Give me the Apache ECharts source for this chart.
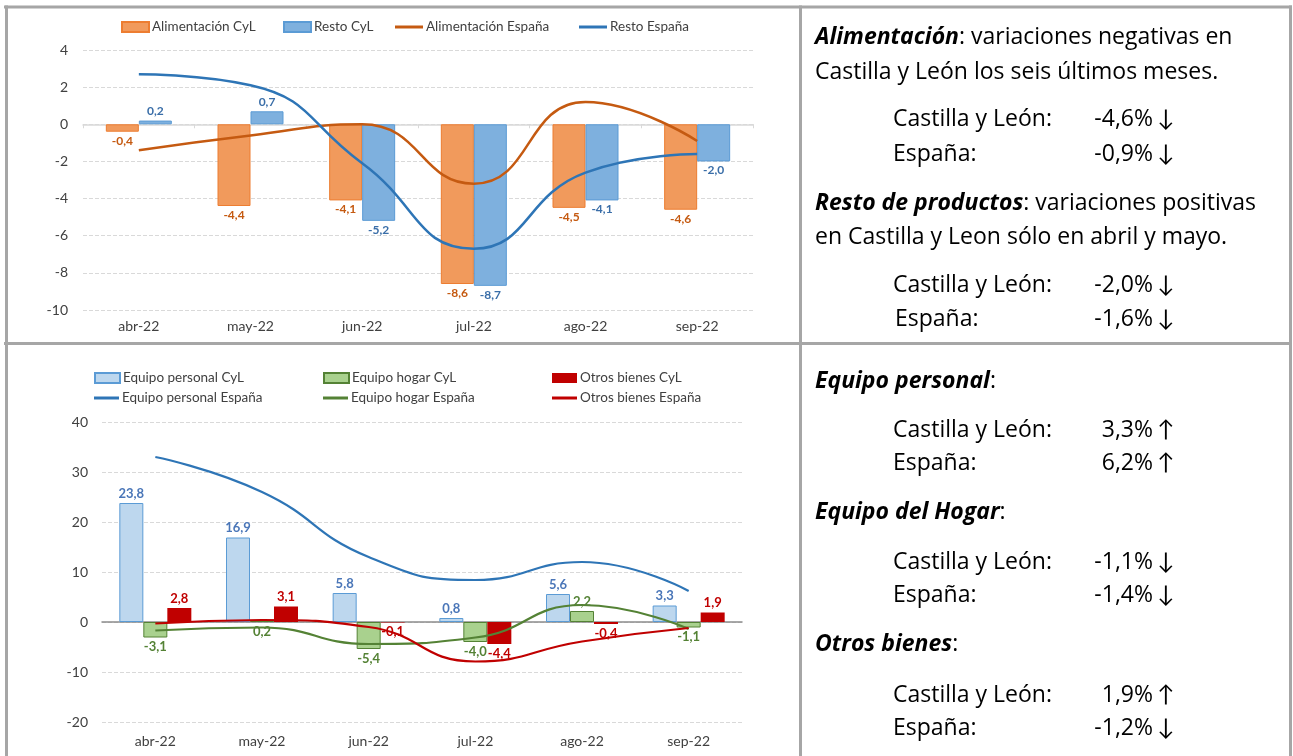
<!DOCTYPE html>
<html lang="es">
<head>
<meta charset="UTF-8">
<title>Comercio minorista CyL</title>
<script src="https://cdn.jsdelivr.net/npm/echarts@6/dist/echarts.min.js"></script>
<style>
body{margin:0;background:#fff;}
#main{width:1293px;height:756px;}
</style>
</head>
<body>
<div id="main"></div>
<script>
// datos
var meses = ['abr-22', 'may-22', 'jun-22', 'jul-22', 'ago-22', 'sep-22'];
var alimCyL = [-0.4, -4.4, -4.1, -8.6, -4.5, -4.6];
var restoCyL = [0.2, 0.7, -5.2, -8.7, -4.1, -2.0];
var alimEsp = [-1.4, -0.6, 0.0, -3.2, 1.2, -0.9];
var restoEsp = [2.7, 2.1, -2.1, -6.7, -2.6, -1.6];
var persCyL = [23.8, 16.9, 5.8, 0.8, 5.6, 3.3];
var hogarCyL = [-3.1, 0.2, -5.4, -4.0, 2.2, -1.1];
var otrosCyL = [2.8, 3.1, -0.1, -4.4, -0.4, 1.9];
var persEsp = [33.0, 26.0, 13.0, 8.4, 12.0, 6.2];
var hogarEsp = [-1.7, -1.1, -4.4, -3.1, 3.4, -1.4];
var otrosEsp = [-0.3, 0.4, -1.0, -7.9, -3.9, -1.2];

// textos del panel derecho
var cabeceras = ['Alimentación', 'Resto de productos', 'Equipo personal', 'Equipo del Hogar', 'Otros bienes'];
var resumenCyL = ['-4,6%', '-2,0%', '3,3%', '-1,1%', '1,9%'];
var resumenEsp = ['-0,9%', '-1,6%', '6,2%', '-1,4%', '-1,2%'];

var FONT = 'Lato';
var FONT_TXT = 'Open Sans';
var myChart = echarts.init(document.getElementById('main'));

function coma(v) {
    return v.toFixed(1).replace('.', ',');
}

function barLabel(color, size) {
    return {
        show: true,
        position: 'outside',
        distance: 3,
        fontFamily: FONT,
        fontSize: size,
        fontWeight: 'bold',
        color: color,
        formatter: function (p) { return coma(p.value); }
    };
}

// una leyenda por elemento para poder colocarlas como en el original
function leg(name, x, y, w, esLinea) {
    return {
        data: [name], left: x, top: y, padding: 0,
        icon: 'rect',
        itemWidth: w, itemHeight: esLinea ? 3 : 10,
        textStyle: { fontFamily: FONT, fontSize: 13.5, color: '#404040', padding: [0, 0, 0, -2] }
    };
}

function txt(x, y, s, align, fam) {
    var f = fam || FONT_TXT;
    return {
        type: 'text', x: x, y: y,
        style: {
            text: s, fill: '#000', align: align || 'left', verticalAlign: 'middle',
            fontFamily: f, fontSize: 23,
            rich: { b: { fontFamily: f, fontSize: 23, fontWeight: 'bold', fontStyle: 'italic' } }
        }
    };
}

function linea(x1, y1, x2, y2) {
    return { type: 'line', shape: { x1: x1, y1: y1, x2: x2, y2: y2 }, style: { stroke: '#A6A6A6', lineWidth: 3 } };
}

function flecha(s) {
    return s.charAt(0) === '-' ? '\u2193' : '\u2191';
}

var graficos = [
    linea(4, 7, 1292, 7), linea(6.5, 5.5, 6.5, 756), linea(1290.5, 5.5, 1290.5, 756),
    linea(800.5, 5.5, 800.5, 756), linea(4, 343.5, 1292, 343.5),
    txt(815, 37, '{b|' + cabeceras[0] + '}: variaciones negativas en'),
    txt(815, 72, 'Castilla y León los seis últimos meses.'),
    txt(815, 203, '{b|' + cabeceras[1] + '}: variaciones positivas'),
    txt(815, 237, 'en Castilla y Leon sólo en abril y mayo.'),
    txt(815, 381, '{b|' + cabeceras[2] + '}:'),
    txt(815, 512, '{b|' + cabeceras[3] + '}:'),
    txt(815, 644, '{b|' + cabeceras[4] + '}:')
];
var filasY = [[119, 154], [285, 319], [430, 463], [562, 595], [695, 728]];
filasY.forEach(function (f, i) {
    graficos.push(txt(893, f[0], 'Castilla y León:'));
    graficos.push(txt(1153, f[0], resumenCyL[i], 'right'));
    graficos.push(txt(1157, f[0], flecha(resumenCyL[i]), 'left', FONT));
    graficos.push(txt(i === 1 ? 895 : 893, f[1], 'España:'));
    graficos.push(txt(1153, f[1], resumenEsp[i], 'right'));
    graficos.push(txt(1157, f[1], flecha(resumenEsp[i]), 'left', FONT));
});

var ejeLabel = { fontFamily: FONT, fontSize: 14, color: '#404040' };
var rejilla = { show: true, lineStyle: { color: '#D9D9D9', type: [4, 2], width: 1 } };

myChart.setOption({
    animation: false,
    textStyle: { fontFamily: FONT },
    legend: [
        leg('Alimentación CyL', 121, 20, 27),
        leg('Resto CyL', 283, 20, 27),
        leg('Alimentación España', 395, 20, 28, true),
        leg('Resto España', 579, 20, 28, true),
        leg('Equipo personal CyL', 94, 371, 25),
        leg('Equipo hogar CyL', 323, 371, 25),
        leg('Otros bienes CyL', 552, 371, 25),
        leg('Equipo personal España', 94, 391, 25, true),
        leg('Equipo hogar España', 323, 391, 25, true),
        leg('Otros bienes España', 552, 391, 25, true)
    ],
    grid: [
        { left: 83, right: 540, top: 50, bottom: 446 },
        { left: 102, right: 551, top: 422, bottom: 34 }
    ],
    xAxis: [
        { type: 'category', gridIndex: 0, data: meses, position: 'bottom',
          axisLine: { show: false, onZero: false }, axisTick: { show: false },
          axisLabel: Object.assign({ margin: 9 }, ejeLabel) },
        { type: 'category', gridIndex: 0, data: meses, position: 'bottom',
          axisLine: { show: true, onZero: true, lineStyle: { color: '#D9D9D9', width: 1.5 } },
          axisTick: { show: true, length: 4, lineStyle: { color: '#D9D9D9' } },
          axisLabel: { show: false } },
        { type: 'category', gridIndex: 1, data: meses, position: 'bottom',
          axisLine: { show: false, onZero: false }, axisTick: { show: false },
          axisLabel: Object.assign({ margin: 12 }, ejeLabel) },
        { type: 'category', gridIndex: 1, data: meses, position: 'bottom',
          axisLine: { show: true, onZero: true, lineStyle: { color: '#8C8C8C', width: 1.5 } },
          axisTick: { show: false }, axisLabel: { show: false } }
    ],
    yAxis: [
        { type: 'value', gridIndex: 0, min: -10, max: 4, interval: 2,
          axisLine: { show: false }, axisTick: { show: false },
          axisLabel: Object.assign({ margin: 15 }, ejeLabel), splitLine: rejilla },
        { type: 'value', gridIndex: 1, min: -20, max: 40, interval: 10,
          axisLine: { show: false }, axisTick: { show: false },
          axisLabel: Object.assign({ margin: 14 }, ejeLabel), splitLine: rejilla }
    ],
    series: [
        { name: 'Alimentación CyL', type: 'bar', xAxisIndex: 0, yAxisIndex: 0, data: alimCyL,
          barWidth: 33, barGap: '0%',
          itemStyle: { color: '#F19A5C', borderColor: '#ED7D31', borderWidth: 1 },
          label: barLabel('#C55A11', 12) },
        { name: 'Resto CyL', type: 'bar', xAxisIndex: 0, yAxisIndex: 0, data: restoCyL,
          barWidth: 33, barGap: '0%',
          itemStyle: { color: '#7EB0DE', borderColor: '#5B9BD5', borderWidth: 1 },
          label: barLabel('#3A6EA8', 12) },
        { name: 'Alimentación España', type: 'line', xAxisIndex: 0, yAxisIndex: 0, data: alimEsp,
          smooth: true, symbol: 'none', lineStyle: { color: '#C55A11', width: 2.5 },
          itemStyle: { color: '#C55A11' } },
        { name: 'Resto España', type: 'line', xAxisIndex: 0, yAxisIndex: 0, data: restoEsp,
          smooth: true, symbol: 'none', lineStyle: { color: '#2E75B6', width: 2.5 },
          itemStyle: { color: '#2E75B6' } },

        { name: 'Equipo personal CyL', type: 'bar', xAxisIndex: 2, yAxisIndex: 1, data: persCyL,
          barWidth: 24, barGap: '0%',
          itemStyle: { color: '#BDD7EE', borderColor: '#5B9BD5', borderWidth: 1 },
          label: barLabel('#4A76B8', 13) },
        { name: 'Equipo hogar CyL', type: 'bar', xAxisIndex: 2, yAxisIndex: 1, data: hogarCyL,
          barWidth: 24, barGap: '0%',
          itemStyle: { color: '#A9D18E', borderColor: '#548235', borderWidth: 1 },
          label: barLabel('#548235', 13) },
        { name: 'Otros bienes CyL', type: 'bar', xAxisIndex: 2, yAxisIndex: 1, data: otrosCyL,
          barWidth: 24, barGap: '0%',
          itemStyle: { color: '#C00000' },
          label: barLabel('#C00000', 13) },
        { name: 'Equipo personal España', type: 'line', xAxisIndex: 2, yAxisIndex: 1, data: persEsp,
          smooth: true, symbol: 'none', lineStyle: { color: '#2E75B6', width: 2.2 },
          itemStyle: { color: '#2E75B6' } },
        { name: 'Equipo hogar España', type: 'line', xAxisIndex: 2, yAxisIndex: 1, data: hogarEsp,
          smooth: true, symbol: 'none', lineStyle: { color: '#548235', width: 2.2 },
          itemStyle: { color: '#548235' } },
        { name: 'Otros bienes España', type: 'line', xAxisIndex: 2, yAxisIndex: 1, data: otrosEsp,
          smooth: true, symbol: 'none', lineStyle: { color: '#C00000', width: 2.2 },
          itemStyle: { color: '#C00000' } }
    ],
    graphic: graficos
});
</script>
</body>
</html>
